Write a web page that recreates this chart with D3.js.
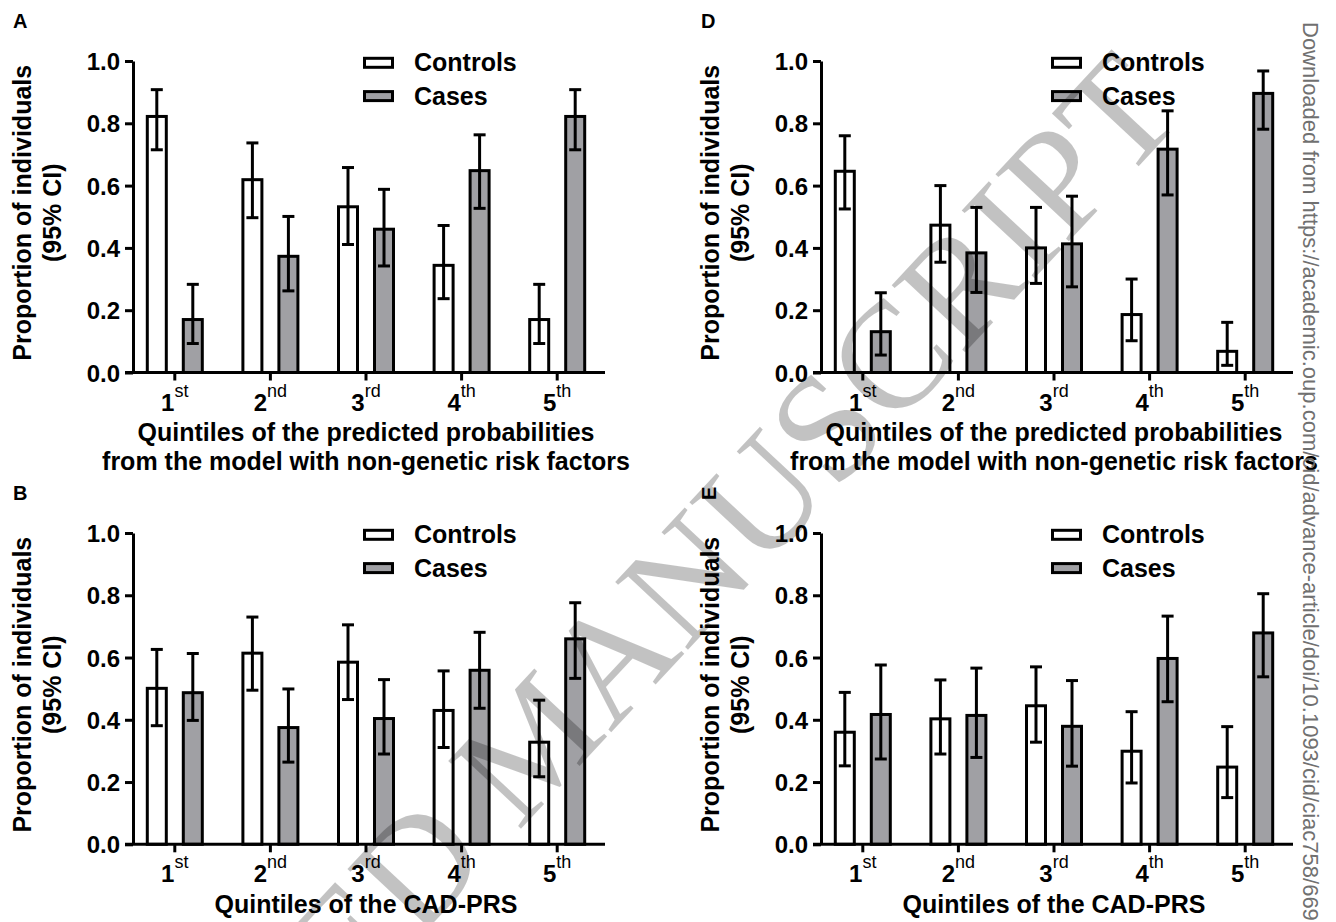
<!DOCTYPE html>
<html>
<head>
<meta charset="utf-8">
<script src="https://cdn.jsdelivr.net/npm/d3@7"></script>
<style>
  body { margin: 0; background: #fff; }
  svg { display: block; }
</style>
</head>
<body>
<div id="chart"></div>
<script>
// quintile tick labels (digit + superscript suffix)
const quintiles = ["1", "2", "3", "4", "5"];
const suffixes = ["st", "nd", "rd", "th", "th"];
const series = ["Controls", "Cases"];
const yTicks = [0, 0.2, 0.4, 0.6, 0.8, 1.0];

// A: non-genetic model
const ctrlA   = [0.822, 0.619, 0.532, 0.344, 0.170];
const ctrlALo = [0.715, 0.497, 0.411, 0.237, 0.093];
const ctrlAHi = [0.908, 0.737, 0.658, 0.472, 0.283];
const caseA   = [0.170, 0.373, 0.460, 0.648, 0.822];
const caseALo = [0.093, 0.262, 0.342, 0.527, 0.715];
const caseAHi = [0.283, 0.501, 0.588, 0.763, 0.908];

// D: non-genetic model
const ctrlD   = [0.646, 0.473, 0.400, 0.186, 0.068];
const ctrlDLo = [0.525, 0.354, 0.286, 0.102, 0.023];
const ctrlDHi = [0.760, 0.600, 0.530, 0.300, 0.161];
const caseD   = [0.131, 0.384, 0.413, 0.717, 0.896];
const caseDLo = [0.056, 0.257, 0.275, 0.570, 0.781];
const caseDHi = [0.256, 0.530, 0.566, 0.840, 0.968];

// B: CAD-PRS
const ctrlB   = [0.501, 0.614, 0.585, 0.430, 0.328];
const ctrlBLo = [0.381, 0.495, 0.465, 0.311, 0.217];
const ctrlBHi = [0.626, 0.730, 0.705, 0.557, 0.463];
const caseB   = [0.487, 0.375, 0.404, 0.559, 0.660];
const caseBLo = [0.398, 0.264, 0.290, 0.437, 0.533];
const caseBHi = [0.613, 0.499, 0.529, 0.681, 0.776];

// E: CAD-PRS
const ctrlE   = [0.360, 0.403, 0.445, 0.299, 0.248];
const ctrlELo = [0.252, 0.290, 0.328, 0.197, 0.150];
const ctrlEHi = [0.488, 0.528, 0.570, 0.426, 0.378];
const caseE   = [0.417, 0.414, 0.379, 0.597, 0.679];
const caseELo = [0.274, 0.279, 0.251, 0.458, 0.538];
const caseEHi = [0.576, 0.566, 0.526, 0.733, 0.805];

const titleNonGenetic = ["Quintiles of the predicted probabilities", "from the model with non-genetic risk factors"];
const titlePRS = ["Quintiles of the CAD-PRS"];

const FONT = "'Liberation Sans', Arial, Helvetica, sans-serif";
const GREY = "#a0a0a4";

const panels = [
  { label: "A", ax: 133, top: 61,  bottom: 372.5, ctrl: [ctrlA, ctrlALo, ctrlAHi], cases: [caseA, caseALo, caseAHi], title: titleNonGenetic, lx: 13,  ly: 28 },
  { label: "D", ax: 821, top: 61,  bottom: 372.5, ctrl: [ctrlD, ctrlDLo, ctrlDHi], cases: [caseD, caseDLo, caseDHi], title: titleNonGenetic, lx: 701, ly: 28 },
  { label: "B", ax: 133, top: 533, bottom: 844.3, ctrl: [ctrlB, ctrlBLo, ctrlBHi], cases: [caseB, caseBLo, caseBHi], title: titlePRS, lx: 13,  ly: 500 },
  { label: "E", ax: 821, top: 533, bottom: 844.3, ctrl: [ctrlE, ctrlELo, ctrlEHi], cases: [caseE, caseELo, caseEHi], title: titlePRS, lx: 716, ly: 500, rotated: true }
];

const svg = d3.select("#chart").append("svg")
  .attr("width", 1336).attr("height", 922)
  .style("font-family", FONT);

function drawPanel(p) {
  const g = svg.append("g");

  const x = d3.scaleBand().domain(quintiles).range([p.ax - 6, p.ax + 472]);
  const x1 = d3.scaleBand().domain(series).range([-36, 36]);
  const y = d3.scaleLinear().domain([0, 1]).range([p.bottom, p.top]);
  const barW = 19;
  const mid = q => x(q) + x.bandwidth() / 2;

  const rows = [];
  series.forEach((s, si) => {
    const [v, lo, hi] = si === 0 ? p.ctrl : p.cases;
    quintiles.forEach((q, i) => rows.push({ s, q, v: v[i], lo: lo[i], hi: hi[i] }));
  });

  // bars
  g.selectAll("rect.bar").data(rows).enter().append("rect")
    .attr("class", "bar")
    .attr("x", d => mid(d.q) + x1(d.s) + (x1.bandwidth() - barW) / 2)
    .attr("y", d => y(d.v))
    .attr("width", barW)
    .attr("height", d => y(0) - y(d.v))
    .attr("fill", d => d.s === "Controls" ? "#fff" : GREY)
    .attr("stroke", "#000").attr("stroke-width", 3);

  // error bars
  const eb = g.selectAll("g.err").data(rows).enter().append("g")
    .attr("class", "err")
    .attr("transform", d => `translate(${mid(d.q) + x1(d.s) + x1.bandwidth() / 2},0)`)
    .attr("stroke", "#000").attr("stroke-width", 3);
  eb.append("line").attr("y1", d => y(d.lo)).attr("y2", d => y(d.hi));
  eb.append("line").attr("x1", -6).attr("x2", 6).attr("y1", d => y(d.hi)).attr("y2", d => y(d.hi));
  eb.append("line").attr("x1", -6).attr("x2", 6).attr("y1", d => y(d.lo)).attr("y2", d => y(d.lo));

  // y axis
  const gy = g.append("g").attr("transform", `translate(${p.ax},0)`)
    .call(d3.axisLeft(y).tickValues(yTicks).tickFormat(d3.format(".1f")).tickSize(8).tickSizeOuter(0).tickPadding(5));
  gy.selectAll("path, line").attr("stroke", "#000").attr("stroke-width", 3);
  gy.selectAll("text").attr("fill", "#000").style("font-family", FONT)
    .style("font-size", "24px").style("font-weight", "bold").attr("dy", "0.36em");

  // x axis
  const gx = g.append("g").attr("transform", `translate(0,${p.bottom})`)
    .call(d3.axisBottom(x).tickSize(8).tickSizeOuter(0));
  gx.select("path.domain").attr("d", `M${p.ax - 8},0H${p.ax + 472}`);
  gx.selectAll("path, line").attr("stroke", "#000").attr("stroke-width", 3);
  gx.selectAll(".tick text").each(function (q, i) {
    const t = d3.select(this).text(null)
      .attr("fill", "#000").attr("y", 38).attr("dy", 0)
      .style("font-family", FONT);
    t.append("tspan").text(q).style("font-size", "24px").style("font-weight", "bold");
    t.append("tspan").text(suffixes[i]).attr("dy", -14)
      .style("font-size", "18px").style("font-weight", "normal");
  });

  // x title
  const xc = mid(quintiles[2]);
  p.title.forEach((line, i) => {
    g.append("text").attr("x", xc).attr("y", p.bottom + 68.5 + i * 28.5)
      .attr("text-anchor", "middle").style("font-size", "25px").style("font-weight", "bold")
      .text(line);
  });

  // y title
  const ym = (p.top + p.bottom) / 2 - 4;
  ["Proportion of individuals", "(95% CI)"].forEach((line, i) => {
    g.append("text").attr("transform", `translate(${p.ax - 102 + i * 30},${ym}) rotate(-90)`)
      .attr("text-anchor", "middle").style("font-size", "25px").style("font-weight", "bold")
      .text(line);
  });

  // legend
  const lg = g.selectAll("g.leg").data(series).enter().append("g")
    .attr("transform", (d, i) => `translate(${p.ax + 231.5},${p.top + 1.8 + i * 33.3})`);
  lg.append("rect").attr("x", 0).attr("y", -4.5).attr("width", 28).attr("height", 9)
    .attr("fill", d => d === "Controls" ? "#fff" : GREY)
    .attr("stroke", "#000").attr("stroke-width", 3);
  lg.append("text").attr("x", 49.5).attr("y", 8.5)
    .style("font-size", "25px").style("font-weight", "bold").text(d => d);

  // panel letter
  g.append("text")
    .attr("transform", p.rotated ? `translate(${p.lx},${p.ly}) rotate(-90)` : `translate(${p.lx},${p.ly})`)
    .style("font-size", "20px").style("font-weight", "bold").text(p.label);
}

panels.forEach(drawPanel);

// download note on the right edge
svg.append("text")
  .attr("transform", "translate(1303,22) rotate(90)")
  .style("font-size", "22px").attr("fill", "#707070")
  .text("Downloaded from https://academic.oup.com/cid/advance-article/doi/10.1093/cid/ciac758/6696");

// watermark
const wm = svg.append("g")
  .attr("transform", "translate(518,832) rotate(-47)")
  .style("font-family", "'Liberation Serif', 'Times New Roman', serif")
  .style("font-size", "152px")
  .attr("fill", "#000").attr("fill-opacity", 0.24);
wm.append("text").attr("x", -38).attr("text-anchor", "end").text("ACCEPTED");
wm.append("text").attr("x", 0).text("MANUSCRIPT");
</script>
</body>
</html>
